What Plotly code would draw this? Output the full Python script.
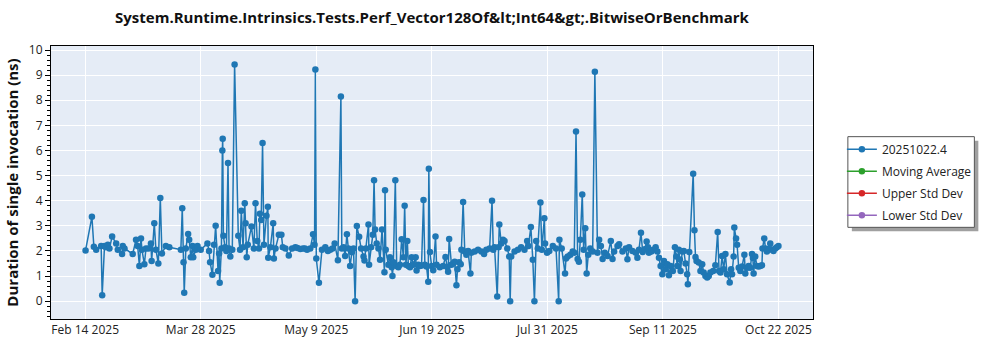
import plotly.graph_objects as go

# Benchmark run timestamps and measured durations (ns)
run_dates = [
    "2025-02-14 21:00", "2025-02-17 04:00", "2025-02-17 21:00", "2025-02-18 17:00", "2025-02-20 12:00",
    "2025-02-20 21:00", "2025-02-21 17:00", "2025-02-22 05:00", "2025-02-22 22:00", "2025-02-23 12:00",
    "2025-02-24 11:00", "2025-02-25 22:00", "2025-02-26 12:00", "2025-02-28 01:00", "2025-02-28 07:00",
    "2025-02-28 22:00", "2025-03-03 21:00", "2025-03-05 02:00", "2025-03-05 16:00", "2025-03-06 07:00",
    "2025-03-06 21:00", "2025-03-07 05:00", "2025-03-08 02:00", "2025-03-08 16:00", "2025-03-09 15:00",
    "2025-03-10 11:00", "2025-03-10 17:00", "2025-03-11 16:00", "2025-03-12 06:00", "2025-03-13 03:00",
    "2025-03-13 20:00", "2025-03-14 10:00", "2025-03-15 20:00", "2025-03-17 02:00", "2025-03-21 06:00",
    "2025-03-21 18:00", "2025-03-22 05:00", "2025-03-22 11:00", "2025-03-23 01:00", "2025-03-23 21:00",
    "2025-03-24 06:00", "2025-03-24 20:00", "2025-03-25 11:00", "2025-03-25 17:00", "2025-03-26 15:00",
    "2025-03-27 06:00", "2025-03-28 10:00",
    "2025-03-30 20:00", "2025-03-31 10:00", "2025-03-31 19:00", "2025-04-01 15:00", "2025-04-02 05:00",
    "2025-04-02 19:00", "2025-04-03 16:00", "2025-04-04 01:00", "2025-04-04 06:00", "2025-04-04 21:00",
    "2025-04-05 05:00", "2025-04-05 08:00", "2025-04-05 14:00", "2025-04-06 04:00", "2025-04-06 16:00",
    "2025-04-07 06:00", "2025-04-07 15:00", "2025-04-08 02:00", "2025-04-08 19:00", "2025-04-09 15:00",
    "2025-04-10 23:00", "2025-04-11 14:00", "2025-04-12 01:00", "2025-04-12 16:00", "2025-04-13 07:00",
    "2025-04-13 14:00", "2025-04-14 00:00", "2025-04-14 09:00", "2025-04-15 17:00", "2025-04-16 14:00",
    "2025-04-17 04:00", "2025-04-17 19:00", "2025-04-18 10:00", "2025-04-18 18:00", "2025-04-19 05:00",
    "2025-04-19 17:00", "2025-04-20 05:00", "2025-04-21 03:00", "2025-04-21 15:00", "2025-04-21 18:00",
    "2025-04-22 13:00", "2025-04-23 13:00", "2025-04-23 19:00", "2025-04-24 09:00", "2025-04-25 14:00",
    "2025-04-26 12:00", "2025-04-27 00:00", "2025-04-27 23:00", "2025-04-29 04:00", "2025-04-30 09:00",
    "2025-05-01 13:00", "2025-05-02 07:00", "2025-05-03 08:00", "2025-05-04 07:00", "2025-05-05 00:00",
    "2025-05-05 18:00", "2025-05-06 22:00", "2025-05-07 22:00", "2025-05-08 11:00", "2025-05-08 18:00",
    "2025-05-09 02:00", "2025-05-10 01:00", "2025-05-11 03:00", "2025-05-12 08:00", "2025-05-13 07:00",
    "2025-05-14 03:00", "2025-05-14 23:00", "2025-05-15 17:00", "2025-05-16 21:00", "2025-05-17 23:00",
    "2025-05-18 07:00", "2025-05-18 22:00", "2025-05-19 12:00", "2025-05-20 03:00", "2025-05-20 17:00",
    "2025-05-21 07:00", "2025-05-21 22:00", "2025-05-22 12:00", "2025-05-23 02:00", "2025-05-23 17:00",
    "2025-05-24 13:00", "2025-05-25 06:00", "2025-05-26 03:00", "2025-05-26 11:00", "2025-05-26 23:00",
    "2025-05-27 22:00", "2025-05-28 03:00", "2025-05-28 20:00", "2025-05-29 11:00", "2025-05-29 22:00",
    "2025-05-30 07:00", "2025-05-30 21:00", "2025-05-31 12:00", "2025-06-01 02:00", "2025-06-01 19:00",
    "2025-06-02 16:00", "2025-06-02 21:00", "2025-06-03 03:00", "2025-06-04 02:00", "2025-06-04 16:00",
    "2025-06-05 07:00", "2025-06-05 13:00", "2025-06-05 21:00", "2025-06-06 14:00", "2025-06-07 02:00",
    "2025-06-07 16:00", "2025-06-08 06:00", "2025-06-08 21:00", "2025-06-09 12:00", "2025-06-09 23:00",
    "2025-06-10 10:00", "2025-06-10 22:00", "2025-06-11 07:00", "2025-06-11 21:00", "2025-06-12 11:00",
    "2025-06-13 02:00", "2025-06-13 22:00", "2025-06-14 06:00", "2025-06-14 21:00", "2025-06-15 11:00",
    "2025-06-16 01:00", "2025-06-16 18:00", "2025-06-17 06:00", "2025-06-17 20:00", "2025-06-18 11:00",
    "2025-06-18 16:00", "2025-06-19 02:00",
    "2025-06-19 16:00", "2025-06-20 06:00", "2025-06-21 02:00", "2025-06-21 11:00", "2025-06-22 15:00",
    "2025-06-23 20:00", "2025-06-24 16:00", "2025-06-25 09:00", "2025-06-25 15:00", "2025-06-26 00:00",
    "2025-06-26 20:00", "2025-06-27 11:00", "2025-06-28 00:00", "2025-06-28 15:00", "2025-06-29 00:00",
    "2025-06-29 14:00", "2025-06-30 04:00", "2025-06-30 10:00", "2025-07-01 01:00", "2025-07-01 15:00",
    "2025-07-02 05:00", "2025-07-02 20:00", "2025-07-03 16:00", "2025-07-04 00:00", "2025-07-05 05:00",
    "2025-07-06 10:00", "2025-07-07 15:00", "2025-07-08 14:00", "2025-07-09 10:00", "2025-07-10 14:00",
    "2025-07-11 11:00", "2025-07-11 22:00", "2025-07-12 09:00", "2025-07-13 08:00", "2025-07-13 20:00",
    "2025-07-14 02:00", "2025-07-14 19:00", "2025-07-15 10:00", "2025-07-15 23:00", "2025-07-16 23:00",
    "2025-07-17 16:00", "2025-07-18 00:00", "2025-07-18 09:00", "2025-07-19 14:00", "2025-07-20 19:00",
    "2025-07-21 23:00", "2025-07-23 04:00", "2025-07-24 03:00", "2025-07-24 14:00", "2025-07-25 11:00",
    "2025-07-26 04:00", "2025-07-26 18:00", "2025-07-27 09:00", "2025-07-27 23:00", "2025-07-28 22:00",
    "2025-07-29 10:00", "2025-07-30 08:00", "2025-07-30 14:00", "2025-07-31 07:00", "2025-08-01 03:00",
    "2025-08-02 09:00", "2025-08-03 13:00", "2025-08-04 12:00", "2025-08-04 18:00", "2025-08-05 14:00",
    "2025-08-06 19:00", "2025-08-07 03:00", "2025-08-07 18:00", "2025-08-08 17:00", "2025-08-09 13:00",
    "2025-08-10 03:00", "2025-08-10 18:00", "2025-08-11 08:00", "2025-08-11 19:00", "2025-08-12 07:00",
    "2025-08-13 00:00", "2025-08-13 12:00", "2025-08-14 02:00", "2025-08-14 14:00", "2025-08-15 04:00",
    "2025-08-15 21:00", "2025-08-16 18:00", "2025-08-17 13:00", "2025-08-18 12:00", "2025-08-19 02:00",
    "2025-08-19 17:00", "2025-08-20 08:00", "2025-08-21 03:00", "2025-08-22 03:00", "2025-08-23 07:00",
    "2025-08-23 22:00", "2025-08-24 12:00", "2025-08-25 17:00", "2025-08-26 07:00", "2025-08-27 12:00",
    "2025-08-28 17:00", "2025-08-29 07:00", "2025-08-29 21:00", "2025-08-31 02:00", "2025-09-01 07:00",
    "2025-09-01 21:00", "2025-09-02 11:00", "2025-09-03 04:00", "2025-09-03 19:00", "2025-09-04 12:00",
    "2025-09-05 05:00", "2025-09-05 17:00", "2025-09-06 01:00", "2025-09-06 22:00", "2025-09-07 15:00",
    "2025-09-08 11:00", "2025-09-09 02:00", "2025-09-09 16:00", "2025-09-10 06:00", "2025-09-10 21:00",
    "2025-09-11 11:00", "2025-09-12 01:00", "2025-09-12 16:00", "2025-09-13 06:00", "2025-09-13 21:00",
    "2025-09-14 16:00", "2025-09-15 10:00", "2025-09-15 22:00", "2025-09-16 06:00", "2025-09-16 20:00",
    "2025-09-17 05:00", "2025-09-17 11:00", "2025-09-18 01:00", "2025-09-18 15:00", "2025-09-19 06:00",
    "2025-09-19 20:00", "2025-09-20 02:00", "2025-09-20 14:00", "2025-09-22 00:00", "2025-09-22 11:00",
    "2025-09-22 20:00", "2025-09-23 05:00", "2025-09-24 00:00", "2025-09-24 15:00", "2025-09-25 06:00",
    "2025-09-25 19:00", "2025-09-26 10:00", "2025-09-27 01:00", "2025-09-27 15:00", "2025-09-28 05:00",
    "2025-09-29 05:00", "2025-09-30 00:00", "2025-09-30 20:00", "2025-10-01 08:00", "2025-10-01 20:00",
    "2025-10-02 10:00", "2025-10-03 00:00", "2025-10-03 15:00", "2025-10-04 05:00", "2025-10-05 04:00",
    "2025-10-05 16:00", "2025-10-06 00:00", "2025-10-06 14:00", "2025-10-06 20:00", "2025-10-07 11:00",
    "2025-10-07 20:00", "2025-10-08 10:00", "2025-10-09 00:00", "2025-10-09 15:00", "2025-10-10 11:00",
    "2025-10-10 19:00", "2025-10-11 10:00", "2025-10-12 00:00", "2025-10-12 14:00", "2025-10-13 05:00",
    "2025-10-13 13:00", "2025-10-13 19:00", "2025-10-14 09:00", "2025-10-15 00:00", "2025-10-15 14:00",
    "2025-10-16 04:00", "2025-10-16 19:00", "2025-10-17 00:00", "2025-10-17 15:00", "2025-10-18 02:00",
    "2025-10-18 14:00", "2025-10-19 04:00", "2025-10-19 19:00", "2025-10-20 09:00", "2025-10-20 23:00",
    "2025-10-21 14:00", "2025-10-22 04:00", "2025-10-22 18:00",
]

durations_ns = [
    2.02, 3.36, 2.17, 2.05, 2.20,
    0.24, 2.20, 2.15, 2.25, 2.10,
    2.57, 2.30, 2.05, 1.88, 2.20,
    2.10, 1.88, 2.45, 2.20, 1.40,
    2.50, 2.05, 1.47, 2.10, 2.10,
    2.30, 1.60, 3.10, 2.05, 1.50,
    4.11, 1.90, 2.20, 2.15, 2.05,
    3.70, 1.55, 0.34, 2.10, 2.67,
    2.45, 1.75, 2.20, 1.75, 2.05,
    2.20, 2.05,
    2.30, 2.00, 1.55, 1.05, 2.25,
    3.00, 1.20, 1.90, 0.73, 2.10,
    6.00, 6.47, 2.60, 2.15, 2.00,
    5.50, 2.10, 1.78, 2.05, 9.42,
    2.60, 2.05, 3.60, 2.15, 3.90,
    3.10, 1.75, 2.25, 2.97, 2.10,
    3.90, 2.40, 2.10, 3.48, 3.23,
    6.30, 2.25, 3.40, 3.76, 1.73,
    2.15, 3.10, 1.70, 2.10, 2.64,
    2.64, 2.15, 2.10, 1.82, 2.10,
    2.15, 2.12, 2.08, 2.10, 2.10,
    2.05, 2.10, 2.66, 2.25, 9.22,
    1.70, 0.73, 2.05, 2.15, 2.00,
    2.05, 2.10, 2.30, 1.63, 8.15,
    2.10, 2.15, 1.80, 2.66, 2.10,
    1.40, 1.95, 2.10, 0.00, 2.99,
    2.56, 2.10, 1.78, 1.62, 2.10,
    3.05, 1.45, 2.15, 2.64, 4.81,
    2.85, 2.30, 2.10, 1.65, 2.85,
    1.15, 4.42, 2.05, 1.45, 1.75,
    1.35, 1.00, 1.55, 4.81, 1.40,
    1.35, 1.45, 2.47, 1.75, 3.80,
    1.45, 2.40, 1.40, 1.35, 1.75,
    1.45, 1.75, 1.22, 1.45, 1.40,
    1.42, 4.03, 1.45, 1.38, 0.77,
    5.27, 1.96,
    1.40, 1.23, 2.57, 1.45, 1.35,
    1.40, 1.76, 1.35, 1.17, 2.48,
    1.45, 1.50, 1.57, 0.63, 1.27,
    1.55, 1.47, 2.05, 3.95, 1.98,
    1.85, 2.00, 1.10, 1.93, 1.98,
    2.05, 1.98, 1.88, 2.05, 2.10,
    4.00, 2.05, 2.15, 0.19, 2.15,
    3.05, 2.30, 2.45, 2.40, 2.10,
    1.78, 0.00, 1.78, 1.98, 2.05,
    2.15, 2.05, 2.40, 2.20, 2.95,
    1.65, 0.00, 2.40, 2.10, 3.93,
    2.05, 3.30, 2.30, 1.93, 2.00,
    2.20, 2.10, 0.00, 2.45, 2.10,
    1.10, 1.70, 1.78, 1.85, 1.98,
    1.93, 6.76, 1.68, 1.57, 2.45,
    4.25, 2.05, 2.90, 1.10, 1.85,
    2.10, 1.98, 9.13, 1.93, 2.45,
    2.20, 1.68, 1.93, 1.80, 2.40,
    1.68, 1.98, 2.20, 2.27, 1.98,
    2.10, 1.67, 2.15, 2.00, 1.93,
    1.73, 2.05, 2.72, 1.96, 2.07,
    2.38, 2.15, 1.93, 1.98, 2.05,
    2.15, 1.98, 1.73, 1.40, 1.07,
    1.60, 1.27, 1.47, 1.03, 1.40,
    1.20, 2.15, 1.78, 1.40, 2.05,
    1.66, 1.20, 1.98, 2.00, 1.50,
    1.07, 0.67, 1.96, 5.07, 2.82,
    1.76, 1.60, 1.54, 1.20, 1.47,
    1.14, 1.00, 0.94, 1.00, 1.14,
    1.20, 1.43, 2.75, 1.20, 1.14,
    1.80, 1.27, 1.88, 1.07, 0.74,
    1.27, 1.07, 1.78, 2.93, 2.50,
    2.25, 1.33, 1.20, 1.38, 1.85,
    1.10, 1.33, 1.40, 1.33, 1.88,
    1.72, 1.10, 1.78, 1.40, 1.38,
    1.40, 1.43, 2.10, 2.50, 2.10,
    1.98, 2.07, 2.30, 2.05, 2.00,
    2.10, 2.15, 2.20,
]

series_names = ["20251022.4", "Moving Average", "Upper Std Dev", "Lower Std Dev"]
series_colors = ["#1f77b4", "#2ca02c", "#d62728", "#9467bd"]

x_range = ["2025-02-02 10:00", "2025-11-04 05:00"]
x_tick_start = "2025-02-14 18:00"
x_tick_step_ms = 3600000000  # 41⅔ days between labelled ticks
y_range = [-0.71, 10.16]

chart_title = "System.Runtime.Intrinsics.Tests.Perf_Vector128Of&amp;lt;Int64&amp;gt;.BitwiseOrBenchmark"
y_title = "Duration of single invocation (ns)"

FONT = "Open Sans, Noto Sans, sans-serif"

fig = go.Figure()
fig.add_trace(go.Scatter(
    x=run_dates, y=durations_ns, mode="lines+markers", name=series_names[0],
    legendgroup=series_names[0],
    line=dict(color=series_colors[0], width=1.5),
    marker=dict(color=series_colors[0], size=6.5),
))
# Statistic series carry no points in this run; they only appear in the legend
for name, color in zip(series_names[1:], series_colors[1:]):
    fig.add_trace(go.Scatter(
        x=[None], y=[None], mode="lines+markers", name=name, legendgroup=name,
        line=dict(color=color, width=1.5), marker=dict(color=color, size=6.5),
    ))

# Legend frame with drop shadow (paper coordinates)
W, H = 1000, 350
ML, MR, MT, MB = 48, 187, 46, 30
pw, ph = W - ML - MR, H - MT - MB


def px_x(p):
    return (p - ML) / pw


def px_y(p):
    return (H - MB - p) / ph


box = (848, 137, 975, 228)
fig.add_shape(type="rect", xref="paper", yref="paper", layer="above",
              x0=px_x(box[0] + 4), x1=px_x(box[2] + 4), y0=px_y(box[3] + 4), y1=px_y(box[1] + 4),
              fillcolor="#a0a0a0", line=dict(width=0))
fig.add_shape(type="rect", xref="paper", yref="paper", layer="above",
              x0=px_x(box[0]), x1=px_x(box[2]), y0=px_y(box[3]), y1=px_y(box[1]),
              fillcolor="white", line=dict(color="#555555", width=1))

fig.update_layout(
    width=W, height=H,
    margin=dict(l=ML, r=MR, t=MT, b=MB, pad=0),
    paper_bgcolor="white", plot_bgcolor="#e5ecf6",
    font=dict(family=FONT, size=12, color="#222222"),
    title=dict(text=chart_title, x=0.5, xref="paper", y=1 - 18 / H, yref="container",
               yanchor="middle", xanchor="center",
               font=dict(family=FONT, size=15, color="#111111", weight="bold")),
    showlegend=True,
    legend=dict(x=px_x(842), y=px_y(135), xanchor="left", yanchor="top",
                bgcolor="rgba(0,0,0,0)", borderwidth=0, itemwidth=30, tracegroupgap=3,
                font=dict(family=FONT, size=12, color="#222222")),
    xaxis=dict(type="date", range=x_range, tick0=x_tick_start, dtick=x_tick_step_ms,
               tickformat="%b %-d %Y", showgrid=True, gridcolor="white", gridwidth=1,
               showline=True, linecolor="black", linewidth=1, mirror=True, ticks="",
               zeroline=False),
    yaxis=dict(range=y_range, tick0=0, dtick=1, showgrid=True, gridcolor="white", gridwidth=1,
               showline=True, linecolor="black", linewidth=1, mirror=True,
               ticks="outside", ticklen=5, tickcolor="black", zeroline=False,
               minor=dict(dtick=0.2, ticks="outside", ticklen=3, tickcolor="black", showgrid=False),
               title=dict(text=y_title, standoff=6,
                          font=dict(family=FONT, size=15, color="#111111", weight="bold"))),
)

fig.write_html("out.html")
